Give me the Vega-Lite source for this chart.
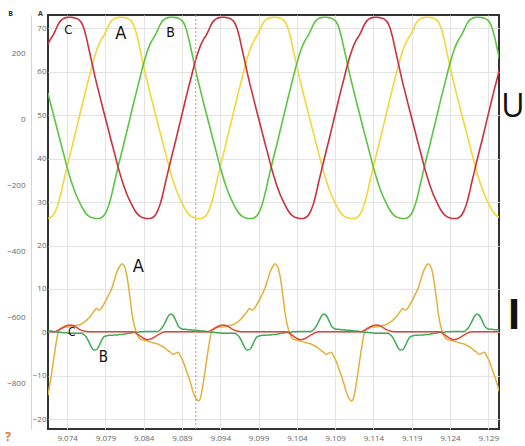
{
"$schema": "https://vega.github.io/schema/vega-lite/v6.json",
"width": 451, "height": 414, "autosize": "none",
"padding": {"left": 48, "top": 15, "right": 26, "bottom": 17},
"background": "#ffffff",
"config": {"view": {"stroke": "#333333", "strokeWidth": 2}, "font": "Open Sans"},
"datasets": {
"wave": [
{"t":9.0715,"Ua":-300,"Ub":79,"Uc":227,"Ia":-14.5,"Ib":0.3,"Ic":0.15},
{"t":9.07183,"Ua":-297,"Ub":48,"Uc":242,"Ia":-11,"Ib":0.3,"Ic":0.15},
{"t":9.07217,"Ua":-290,"Ub":18,"Uc":254,"Ia":-7,"Ib":0.2,"Ic":0.15},
{"t":9.0725,"Ua":-276,"Ub":-12,"Uc":270,"Ia":-3.1,"Ib":0.1,"Ic":0.2},
{"t":9.07283,"Ua":-255,"Ub":-42,"Uc":287,"Ia":0,"Ib":0,"Ic":0.5},
{"t":9.07317,"Ua":-226,"Ub":-72,"Uc":298,"Ia":0.9,"Ib":0,"Ic":0.8},
{"t":9.0735,"Ua":-192,"Ub":-101,"Uc":304,"Ia":1.2,"Ib":-0.1,"Ic":1.1},
{"t":9.07383,"Ua":-159,"Ub":-131,"Uc":307,"Ia":1.2,"Ib":-0.1,"Ic":1.45},
{"t":9.07417,"Ua":-127,"Ub":-159,"Uc":308,"Ia":1.2,"Ib":-0.2,"Ic":1.65},
{"t":9.0745,"Ua":-96,"Ub":-185,"Uc":308,"Ia":1.3,"Ib":-0.2,"Ic":1.7},
{"t":9.07483,"Ua":-65,"Ub":-208,"Uc":307,"Ia":1.4,"Ib":-0.2,"Ic":1.5},
{"t":9.07517,"Ua":-33,"Ub":-228,"Uc":305,"Ia":1.6,"Ib":-0.2,"Ic":1.2},
{"t":9.0755,"Ua":-1,"Ub":-245,"Uc":301,"Ia":1.7,"Ib":-0.2,"Ic":0.8},
{"t":9.07583,"Ua":31,"Ub":-261,"Uc":293,"Ia":1.9,"Ib":-0.2,"Ic":0.5},
{"t":9.07617,"Ua":63,"Ub":-275,"Uc":276,"Ia":2.3,"Ib":-0.5,"Ic":0.3},
{"t":9.0765,"Ua":94,"Ub":-286,"Uc":248,"Ia":2.7,"Ib":-1.1,"Ic":0.2},
{"t":9.07683,"Ua":124,"Ub":-293,"Uc":213,"Ia":3.3,"Ib":-2.2,"Ic":0.15},
{"t":9.07717,"Ua":155,"Ub":-297,"Uc":178,"Ia":4,"Ib":-3.4,"Ic":0.15},
{"t":9.0775,"Ua":183,"Ub":-299,"Uc":143,"Ia":4.8,"Ib":-4.1,"Ic":0.15},
{"t":9.07783,"Ua":207,"Ub":-300,"Uc":110,"Ia":5.5,"Ib":-4,"Ic":0.15},
{"t":9.07817,"Ua":227,"Ub":-300,"Uc":79,"Ia":5.1,"Ib":-3.1,"Ic":0.15},
{"t":9.0785,"Ua":242,"Ub":-297,"Uc":48,"Ia":5.6,"Ib":-1.8,"Ic":0.15},
{"t":9.07883,"Ua":254,"Ub":-290,"Uc":18,"Ia":6.6,"Ib":-1,"Ic":0.15},
{"t":9.07917,"Ua":270,"Ub":-276,"Uc":-12,"Ia":7.7,"Ib":-0.8,"Ic":0.15},
{"t":9.0795,"Ua":287,"Ub":-255,"Uc":-42,"Ia":8.9,"Ib":-0.7,"Ic":0.15},
{"t":9.07983,"Ua":298,"Ub":-226,"Uc":-72,"Ia":10.1,"Ib":-0.7,"Ic":0.15},
{"t":9.08017,"Ua":304,"Ub":-192,"Uc":-101,"Ia":12,"Ib":-0.6,"Ic":0.15},
{"t":9.0805,"Ua":307,"Ub":-159,"Uc":-131,"Ia":13.9,"Ib":-0.6,"Ic":0.15},
{"t":9.08083,"Ua":308,"Ub":-127,"Uc":-159,"Ia":15.1,"Ib":-0.5,"Ic":0.15},
{"t":9.08117,"Ua":308,"Ub":-96,"Uc":-185,"Ia":15.8,"Ib":-0.5,"Ic":0.15},
{"t":9.0815,"Ua":307,"Ub":-65,"Uc":-208,"Ia":15.1,"Ib":-0.4,"Ic":0.15},
{"t":9.08183,"Ua":305,"Ub":-33,"Uc":-228,"Ia":12.7,"Ib":-0.3,"Ic":0.15},
{"t":9.08217,"Ua":301,"Ub":-1,"Uc":-245,"Ia":8.5,"Ib":-0.2,"Ic":0.15},
{"t":9.0825,"Ua":293,"Ub":31,"Uc":-261,"Ia":4,"Ib":-0.1,"Ic":0.15},
{"t":9.08283,"Ua":276,"Ub":63,"Uc":-275,"Ia":1.1,"Ib":0,"Ic":0},
{"t":9.08317,"Ua":248,"Ub":94,"Uc":-286,"Ia":-0.6,"Ib":0,"Ic":-0.4},
{"t":9.0835,"Ua":213,"Ub":124,"Uc":-293,"Ia":-1.5,"Ib":0.1,"Ic":-0.8},
{"t":9.08383,"Ua":178,"Ub":155,"Uc":-297,"Ia":-1.7,"Ib":0.1,"Ic":-1.2},
{"t":9.08417,"Ua":143,"Ub":183,"Uc":-299,"Ia":-1.9,"Ib":0.2,"Ic":-1.55},
{"t":9.0845,"Ua":110,"Ub":207,"Uc":-300,"Ia":-2,"Ib":0.2,"Ic":-1.7},
{"t":9.08483,"Ua":79,"Ub":227,"Uc":-300,"Ia":-2.2,"Ib":0.2,"Ic":-1.6},
{"t":9.08517,"Ua":48,"Ub":242,"Uc":-297,"Ia":-2.4,"Ib":0.2,"Ic":-1.35},
{"t":9.0855,"Ua":18,"Ub":254,"Uc":-290,"Ia":-2.5,"Ib":0.2,"Ic":-1},
{"t":9.08583,"Ua":-12,"Ub":270,"Uc":-276,"Ia":-2.7,"Ib":0.2,"Ic":-0.6},
{"t":9.08617,"Ua":-42,"Ub":287,"Uc":-255,"Ia":-3,"Ib":0.6,"Ic":-0.3},
{"t":9.0865,"Ua":-72,"Ub":298,"Uc":-226,"Ia":-3.3,"Ib":1.3,"Ic":0},
{"t":9.08683,"Ua":-101,"Ub":304,"Uc":-192,"Ia":-3.7,"Ib":2.4,"Ic":0.15},
{"t":9.08717,"Ua":-131,"Ub":307,"Uc":-159,"Ia":-4.2,"Ib":3.6,"Ic":0.15},
{"t":9.0875,"Ua":-159,"Ub":308,"Uc":-127,"Ia":-4.6,"Ib":4.2,"Ic":0.15},
{"t":9.08783,"Ua":-185,"Ub":308,"Uc":-96,"Ia":-5.1,"Ib":3.9,"Ic":0.15},
{"t":9.08817,"Ua":-208,"Ub":307,"Uc":-65,"Ia":-4.8,"Ib":2.8,"Ic":0.15},
{"t":9.0885,"Ua":-228,"Ub":305,"Uc":-33,"Ia":-4.6,"Ib":1.5,"Ic":0.15},
{"t":9.08883,"Ua":-245,"Ub":301,"Uc":-1,"Ia":-5.6,"Ib":0.9,"Ic":0.15},
{"t":9.08917,"Ua":-261,"Ub":293,"Uc":31,"Ia":-6.8,"Ib":0.7,"Ic":0.15},
{"t":9.0895,"Ua":-275,"Ub":276,"Uc":63,"Ia":-8.5,"Ib":0.7,"Ic":0.15},
{"t":9.08983,"Ua":-286,"Ub":248,"Uc":94,"Ia":-10.1,"Ib":0.6,"Ic":0.15},
{"t":9.09017,"Ua":-293,"Ub":213,"Uc":124,"Ia":-12,"Ib":0.6,"Ic":0.15},
{"t":9.0905,"Ua":-297,"Ub":178,"Uc":155,"Ia":-14,"Ib":0.5,"Ic":0.15},
{"t":9.09083,"Ua":-299,"Ub":143,"Uc":183,"Ia":-15.3,"Ib":0.5,"Ic":0.15},
{"t":9.09117,"Ua":-300,"Ub":110,"Uc":207,"Ia":-15.8,"Ib":0.4,"Ic":0.15},
{"t":9.0915,"Ua":-300,"Ub":79,"Uc":227,"Ia":-14.5,"Ib":0.3,"Ic":0.15},
{"t":9.09183,"Ua":-297,"Ub":48,"Uc":242,"Ia":-11,"Ib":0.3,"Ic":0.15},
{"t":9.09217,"Ua":-290,"Ub":18,"Uc":254,"Ia":-7,"Ib":0.2,"Ic":0.15},
{"t":9.0925,"Ua":-276,"Ub":-12,"Uc":270,"Ia":-3.1,"Ib":0.1,"Ic":0.2},
{"t":9.09283,"Ua":-255,"Ub":-42,"Uc":287,"Ia":0,"Ib":0,"Ic":0.5},
{"t":9.09317,"Ua":-226,"Ub":-72,"Uc":298,"Ia":0.9,"Ib":0,"Ic":0.8},
{"t":9.0935,"Ua":-192,"Ub":-101,"Uc":304,"Ia":1.2,"Ib":-0.1,"Ic":1.1},
{"t":9.09383,"Ua":-159,"Ub":-131,"Uc":307,"Ia":1.2,"Ib":-0.1,"Ic":1.45},
{"t":9.09417,"Ua":-127,"Ub":-159,"Uc":308,"Ia":1.2,"Ib":-0.2,"Ic":1.65},
{"t":9.0945,"Ua":-96,"Ub":-185,"Uc":308,"Ia":1.3,"Ib":-0.2,"Ic":1.7},
{"t":9.09483,"Ua":-65,"Ub":-208,"Uc":307,"Ia":1.4,"Ib":-0.2,"Ic":1.5},
{"t":9.09517,"Ua":-33,"Ub":-228,"Uc":305,"Ia":1.6,"Ib":-0.2,"Ic":1.2},
{"t":9.0955,"Ua":-1,"Ub":-245,"Uc":301,"Ia":1.7,"Ib":-0.2,"Ic":0.8},
{"t":9.09583,"Ua":31,"Ub":-261,"Uc":293,"Ia":1.9,"Ib":-0.2,"Ic":0.5},
{"t":9.09617,"Ua":63,"Ub":-275,"Uc":276,"Ia":2.3,"Ib":-0.5,"Ic":0.3},
{"t":9.0965,"Ua":94,"Ub":-286,"Uc":248,"Ia":2.7,"Ib":-1.1,"Ic":0.2},
{"t":9.09683,"Ua":124,"Ub":-293,"Uc":213,"Ia":3.3,"Ib":-2.2,"Ic":0.15},
{"t":9.09717,"Ua":155,"Ub":-297,"Uc":178,"Ia":4,"Ib":-3.4,"Ic":0.15},
{"t":9.0975,"Ua":183,"Ub":-299,"Uc":143,"Ia":4.8,"Ib":-4.1,"Ic":0.15},
{"t":9.09783,"Ua":207,"Ub":-300,"Uc":110,"Ia":5.5,"Ib":-4,"Ic":0.15},
{"t":9.09817,"Ua":227,"Ub":-300,"Uc":79,"Ia":5.1,"Ib":-3.1,"Ic":0.15},
{"t":9.0985,"Ua":242,"Ub":-297,"Uc":48,"Ia":5.6,"Ib":-1.8,"Ic":0.15},
{"t":9.09883,"Ua":254,"Ub":-290,"Uc":18,"Ia":6.6,"Ib":-1,"Ic":0.15},
{"t":9.09917,"Ua":270,"Ub":-276,"Uc":-12,"Ia":7.7,"Ib":-0.8,"Ic":0.15},
{"t":9.0995,"Ua":287,"Ub":-255,"Uc":-42,"Ia":8.9,"Ib":-0.7,"Ic":0.15},
{"t":9.09983,"Ua":298,"Ub":-226,"Uc":-72,"Ia":10.1,"Ib":-0.7,"Ic":0.15},
{"t":9.10017,"Ua":304,"Ub":-192,"Uc":-101,"Ia":12,"Ib":-0.6,"Ic":0.15},
{"t":9.1005,"Ua":307,"Ub":-159,"Uc":-131,"Ia":13.9,"Ib":-0.6,"Ic":0.15},
{"t":9.10083,"Ua":308,"Ub":-127,"Uc":-159,"Ia":15.1,"Ib":-0.5,"Ic":0.15},
{"t":9.10117,"Ua":308,"Ub":-96,"Uc":-185,"Ia":15.8,"Ib":-0.5,"Ic":0.15},
{"t":9.1015,"Ua":307,"Ub":-65,"Uc":-208,"Ia":15.1,"Ib":-0.4,"Ic":0.15},
{"t":9.10183,"Ua":305,"Ub":-33,"Uc":-228,"Ia":12.7,"Ib":-0.3,"Ic":0.15},
{"t":9.10217,"Ua":301,"Ub":-1,"Uc":-245,"Ia":8.5,"Ib":-0.2,"Ic":0.15},
{"t":9.1025,"Ua":293,"Ub":31,"Uc":-261,"Ia":4,"Ib":-0.1,"Ic":0.15},
{"t":9.10283,"Ua":276,"Ub":63,"Uc":-275,"Ia":1.1,"Ib":0,"Ic":0},
{"t":9.10317,"Ua":248,"Ub":94,"Uc":-286,"Ia":-0.6,"Ib":0,"Ic":-0.4},
{"t":9.1035,"Ua":213,"Ub":124,"Uc":-293,"Ia":-1.5,"Ib":0.1,"Ic":-0.8},
{"t":9.10383,"Ua":178,"Ub":155,"Uc":-297,"Ia":-1.7,"Ib":0.1,"Ic":-1.2},
{"t":9.10417,"Ua":143,"Ub":183,"Uc":-299,"Ia":-1.9,"Ib":0.2,"Ic":-1.55},
{"t":9.1045,"Ua":110,"Ub":207,"Uc":-300,"Ia":-2,"Ib":0.2,"Ic":-1.7},
{"t":9.10483,"Ua":79,"Ub":227,"Uc":-300,"Ia":-2.2,"Ib":0.2,"Ic":-1.6},
{"t":9.10517,"Ua":48,"Ub":242,"Uc":-297,"Ia":-2.4,"Ib":0.2,"Ic":-1.35},
{"t":9.1055,"Ua":18,"Ub":254,"Uc":-290,"Ia":-2.5,"Ib":0.2,"Ic":-1},
{"t":9.10583,"Ua":-12,"Ub":270,"Uc":-276,"Ia":-2.7,"Ib":0.2,"Ic":-0.6},
{"t":9.10617,"Ua":-42,"Ub":287,"Uc":-255,"Ia":-3,"Ib":0.6,"Ic":-0.3},
{"t":9.1065,"Ua":-72,"Ub":298,"Uc":-226,"Ia":-3.3,"Ib":1.3,"Ic":0},
{"t":9.10683,"Ua":-101,"Ub":304,"Uc":-192,"Ia":-3.7,"Ib":2.4,"Ic":0.15},
{"t":9.10717,"Ua":-131,"Ub":307,"Uc":-159,"Ia":-4.2,"Ib":3.6,"Ic":0.15},
{"t":9.1075,"Ua":-159,"Ub":308,"Uc":-127,"Ia":-4.6,"Ib":4.2,"Ic":0.15},
{"t":9.10783,"Ua":-185,"Ub":308,"Uc":-96,"Ia":-5.1,"Ib":3.9,"Ic":0.15},
{"t":9.10817,"Ua":-208,"Ub":307,"Uc":-65,"Ia":-4.8,"Ib":2.8,"Ic":0.15},
{"t":9.1085,"Ua":-228,"Ub":305,"Uc":-33,"Ia":-4.6,"Ib":1.5,"Ic":0.15},
{"t":9.10883,"Ua":-245,"Ub":301,"Uc":-1,"Ia":-5.6,"Ib":0.9,"Ic":0.15},
{"t":9.10917,"Ua":-261,"Ub":293,"Uc":31,"Ia":-6.8,"Ib":0.7,"Ic":0.15},
{"t":9.1095,"Ua":-275,"Ub":276,"Uc":63,"Ia":-8.5,"Ib":0.7,"Ic":0.15},
{"t":9.10983,"Ua":-286,"Ub":248,"Uc":94,"Ia":-10.1,"Ib":0.6,"Ic":0.15},
{"t":9.11017,"Ua":-293,"Ub":213,"Uc":124,"Ia":-12,"Ib":0.6,"Ic":0.15},
{"t":9.1105,"Ua":-297,"Ub":178,"Uc":155,"Ia":-14,"Ib":0.5,"Ic":0.15},
{"t":9.11083,"Ua":-299,"Ub":143,"Uc":183,"Ia":-15.3,"Ib":0.5,"Ic":0.15},
{"t":9.11117,"Ua":-300,"Ub":110,"Uc":207,"Ia":-15.8,"Ib":0.4,"Ic":0.15},
{"t":9.1115,"Ua":-300,"Ub":79,"Uc":227,"Ia":-14.5,"Ib":0.3,"Ic":0.15},
{"t":9.11183,"Ua":-297,"Ub":48,"Uc":242,"Ia":-11,"Ib":0.3,"Ic":0.15},
{"t":9.11217,"Ua":-290,"Ub":18,"Uc":254,"Ia":-7,"Ib":0.2,"Ic":0.15},
{"t":9.1125,"Ua":-276,"Ub":-12,"Uc":270,"Ia":-3.1,"Ib":0.1,"Ic":0.2},
{"t":9.11283,"Ua":-255,"Ub":-42,"Uc":287,"Ia":0,"Ib":0,"Ic":0.5},
{"t":9.11317,"Ua":-226,"Ub":-72,"Uc":298,"Ia":0.9,"Ib":0,"Ic":0.8},
{"t":9.1135,"Ua":-192,"Ub":-101,"Uc":304,"Ia":1.2,"Ib":-0.1,"Ic":1.1},
{"t":9.11383,"Ua":-159,"Ub":-131,"Uc":307,"Ia":1.2,"Ib":-0.1,"Ic":1.45},
{"t":9.11417,"Ua":-127,"Ub":-159,"Uc":308,"Ia":1.2,"Ib":-0.2,"Ic":1.65},
{"t":9.1145,"Ua":-96,"Ub":-185,"Uc":308,"Ia":1.3,"Ib":-0.2,"Ic":1.7},
{"t":9.11483,"Ua":-65,"Ub":-208,"Uc":307,"Ia":1.4,"Ib":-0.2,"Ic":1.5},
{"t":9.11517,"Ua":-33,"Ub":-228,"Uc":305,"Ia":1.6,"Ib":-0.2,"Ic":1.2},
{"t":9.1155,"Ua":-1,"Ub":-245,"Uc":301,"Ia":1.7,"Ib":-0.2,"Ic":0.8},
{"t":9.11583,"Ua":31,"Ub":-261,"Uc":293,"Ia":1.9,"Ib":-0.2,"Ic":0.5},
{"t":9.11617,"Ua":63,"Ub":-275,"Uc":276,"Ia":2.3,"Ib":-0.5,"Ic":0.3},
{"t":9.1165,"Ua":94,"Ub":-286,"Uc":248,"Ia":2.7,"Ib":-1.1,"Ic":0.2},
{"t":9.11683,"Ua":124,"Ub":-293,"Uc":213,"Ia":3.3,"Ib":-2.2,"Ic":0.15},
{"t":9.11717,"Ua":155,"Ub":-297,"Uc":178,"Ia":4,"Ib":-3.4,"Ic":0.15},
{"t":9.1175,"Ua":183,"Ub":-299,"Uc":143,"Ia":4.8,"Ib":-4.1,"Ic":0.15},
{"t":9.11783,"Ua":207,"Ub":-300,"Uc":110,"Ia":5.5,"Ib":-4,"Ic":0.15},
{"t":9.11817,"Ua":227,"Ub":-300,"Uc":79,"Ia":5.1,"Ib":-3.1,"Ic":0.15},
{"t":9.1185,"Ua":242,"Ub":-297,"Uc":48,"Ia":5.6,"Ib":-1.8,"Ic":0.15},
{"t":9.11883,"Ua":254,"Ub":-290,"Uc":18,"Ia":6.6,"Ib":-1,"Ic":0.15},
{"t":9.11917,"Ua":270,"Ub":-276,"Uc":-12,"Ia":7.7,"Ib":-0.8,"Ic":0.15},
{"t":9.1195,"Ua":287,"Ub":-255,"Uc":-42,"Ia":8.9,"Ib":-0.7,"Ic":0.15},
{"t":9.11983,"Ua":298,"Ub":-226,"Uc":-72,"Ia":10.1,"Ib":-0.7,"Ic":0.15},
{"t":9.12017,"Ua":304,"Ub":-192,"Uc":-101,"Ia":12,"Ib":-0.6,"Ic":0.15},
{"t":9.1205,"Ua":307,"Ub":-159,"Uc":-131,"Ia":13.9,"Ib":-0.6,"Ic":0.15},
{"t":9.12083,"Ua":308,"Ub":-127,"Uc":-159,"Ia":15.1,"Ib":-0.5,"Ic":0.15},
{"t":9.12117,"Ua":308,"Ub":-96,"Uc":-185,"Ia":15.8,"Ib":-0.5,"Ic":0.15},
{"t":9.1215,"Ua":307,"Ub":-65,"Uc":-208,"Ia":15.1,"Ib":-0.4,"Ic":0.15},
{"t":9.12183,"Ua":305,"Ub":-33,"Uc":-228,"Ia":12.7,"Ib":-0.3,"Ic":0.15},
{"t":9.12217,"Ua":301,"Ub":-1,"Uc":-245,"Ia":8.5,"Ib":-0.2,"Ic":0.15},
{"t":9.1225,"Ua":293,"Ub":31,"Uc":-261,"Ia":4,"Ib":-0.1,"Ic":0.15},
{"t":9.12283,"Ua":276,"Ub":63,"Uc":-275,"Ia":1.1,"Ib":0,"Ic":0},
{"t":9.12317,"Ua":248,"Ub":94,"Uc":-286,"Ia":-0.6,"Ib":0,"Ic":-0.4},
{"t":9.1235,"Ua":213,"Ub":124,"Uc":-293,"Ia":-1.5,"Ib":0.1,"Ic":-0.8},
{"t":9.12383,"Ua":178,"Ub":155,"Uc":-297,"Ia":-1.7,"Ib":0.1,"Ic":-1.2},
{"t":9.12417,"Ua":143,"Ub":183,"Uc":-299,"Ia":-1.9,"Ib":0.2,"Ic":-1.55},
{"t":9.1245,"Ua":110,"Ub":207,"Uc":-300,"Ia":-2,"Ib":0.2,"Ic":-1.7},
{"t":9.12483,"Ua":79,"Ub":227,"Uc":-300,"Ia":-2.2,"Ib":0.2,"Ic":-1.6},
{"t":9.12517,"Ua":48,"Ub":242,"Uc":-297,"Ia":-2.4,"Ib":0.2,"Ic":-1.35},
{"t":9.1255,"Ua":18,"Ub":254,"Uc":-290,"Ia":-2.5,"Ib":0.2,"Ic":-1},
{"t":9.12583,"Ua":-12,"Ub":270,"Uc":-276,"Ia":-2.7,"Ib":0.2,"Ic":-0.6},
{"t":9.12617,"Ua":-42,"Ub":287,"Uc":-255,"Ia":-3,"Ib":0.6,"Ic":-0.3},
{"t":9.1265,"Ua":-72,"Ub":298,"Uc":-226,"Ia":-3.3,"Ib":1.3,"Ic":0},
{"t":9.12683,"Ua":-101,"Ub":304,"Uc":-192,"Ia":-3.7,"Ib":2.4,"Ic":0.15},
{"t":9.12717,"Ua":-131,"Ub":307,"Uc":-159,"Ia":-4.2,"Ib":3.6,"Ic":0.15},
{"t":9.1275,"Ua":-159,"Ub":308,"Uc":-127,"Ia":-4.6,"Ib":4.2,"Ic":0.15},
{"t":9.12783,"Ua":-185,"Ub":308,"Uc":-96,"Ia":-5.1,"Ib":3.9,"Ic":0.15},
{"t":9.12817,"Ua":-208,"Ub":307,"Uc":-65,"Ia":-4.8,"Ib":2.8,"Ic":0.15},
{"t":9.1285,"Ua":-228,"Ub":305,"Uc":-33,"Ia":-4.6,"Ib":1.5,"Ic":0.15},
{"t":9.12883,"Ua":-245,"Ub":301,"Uc":-1,"Ia":-5.6,"Ib":0.9,"Ic":0.15},
{"t":9.12917,"Ua":-261,"Ub":293,"Uc":31,"Ia":-6.8,"Ib":0.7,"Ic":0.15},
{"t":9.1295,"Ua":-275,"Ub":276,"Uc":63,"Ia":-8.5,"Ib":0.7,"Ic":0.15},
{"t":9.12983,"Ua":-286,"Ub":248,"Uc":94,"Ia":-10.1,"Ib":0.6,"Ic":0.15},
{"t":9.13017,"Ua":-293,"Ub":213,"Uc":124,"Ia":-12,"Ib":0.6,"Ic":0.15},
{"t":9.1305,"Ua":-297,"Ub":178,"Uc":155,"Ia":-14,"Ib":0.5,"Ic":0.15}
],
"cursor": [{"t": 9.0908}],
"ulabels": [
{"t":9.07415,"value":270,"label":"C"},
{"t":9.08099,"value":258,"label":"A"},
{"t":9.08752,"value":260,"label":"B"},
{"t":9.13223,"value":38,"label":"U"}
],
"ilabels": [
{"t":9.08329,"value":15.1,"label":"A"},
{"t":9.0746,"value":0,"label":"C"},
{"t":9.07872,"value":-5.6,"label":"B"},
{"t":9.13236,"value":3.5,"label":"I"},
{"t":9.06628,"value":-24.1,"label":"?"}
]
},
"encoding": {
"x": {"field": "t", "type": "quantitative", "title": null,
"scale": {"domain": [9.0715, 9.1304], "nice": false, "zero": false},
"axis": {"values": [9.074, 9.079, 9.084, 9.089, 9.094, 9.099, 9.104, 9.109, 9.114, 9.119, 9.124, 9.129],
"format": ".3f", "grid": true, "gridColor": "#e3e3e3", "gridWidth": 1, "ticks": false, "tickSize": 0, "domain": false,
"labelPadding": 5, "labelFontSize": 8, "labelColor": "#666666", "labelFont": "Open Sans", "labelFlush": false}}
},
"layer": [
{
"encoding": {"y": {"field": "value", "type": "quantitative", "title": "B",
"scale": {"domain": [-936, 315], "nice": false, "zero": false},
"axis": {"orient": "left", "offset": 17, "values": [-800, -600, -400, -200, 0, 200], "grid": false, "ticks": false, "tickSize": 0,
"domain": true, "domainColor": "#d4d4d4", "domainWidth": 1, "labelPadding": 6, "labelFontSize": 8, "labelColor": "#666666", "labelFont": "Open Sans",
"titleAngle": 0, "titleX": -21, "titleY": 0, "titleAlign": "center", "titleBaseline": "alphabetic", "titleFontSize": 7, "titleFontWeight": "bold", "titleColor": "#333333", "titleFont": "Open Sans"}}},
"layer": [
{"data": {"name": "wave"}, "transform": [{"fold": ["Ua", "Ub", "Uc"], "as": ["phase", "value"]}],
"mark": {"type": "line", "strokeWidth": 1.6, "interpolate": "monotone", "clip": true},
"encoding": {"color": {"field": "phase", "type": "nominal", "scale": {"domain": ["Ua", "Ub", "Uc"], "range": ["#f4d63c", "#5cc443", "#c9323e"]}, "legend": null}}},
{"data": {"name": "ulabels"}, "transform": [{"filter": "datum.label === 'C'"}],
"mark": {"type": "text", "fontSize": 13, "font": "DejaVu Sans Condensed, Liberation Sans Narrow, Open Sans", "fill": "#111111", "align": "center", "baseline": "middle"},
"encoding": {"text": {"field": "label"}}},
{"data": {"name": "ulabels"}, "transform": [{"filter": "datum.label === 'A'"}],
"mark": {"type": "text", "fontSize": 18, "font": "DejaVu Sans Condensed, Liberation Sans Narrow, Open Sans", "fill": "#111111", "align": "center", "baseline": "middle"},
"encoding": {"text": {"field": "label"}}},
{"data": {"name": "ulabels"}, "transform": [{"filter": "datum.label === 'B'"}],
"mark": {"type": "text", "fontSize": 14, "font": "DejaVu Sans Condensed, Liberation Sans Narrow, Open Sans", "fill": "#111111", "align": "center", "baseline": "middle"},
"encoding": {"text": {"field": "label"}}},
{"data": {"name": "ulabels"}, "transform": [{"filter": "datum.label === 'U'"}],
"mark": {"type": "text", "fontSize": 32, "font": "Open Sans", "fill": "#111111", "align": "center", "baseline": "middle"},
"encoding": {"text": {"field": "label"}}}
]
},
{
"encoding": {"y": {"field": "value", "type": "quantitative", "title": "A",
"scale": {"domain": [-22.28, 73.11], "nice": false, "zero": false},
"axis": {"orient": "left", "offset": 0, "values": [-20, -10, 0, 10, 20, 30, 40, 50, 60, 70], "grid": true, "gridColor": "#e3e3e3", "gridWidth": 1,
"ticks": false, "tickSize": 0, "domain": false, "labelPadding": 2, "labelFontSize": 8, "labelColor": "#666666", "labelFont": "Open Sans",
"titleAngle": 0, "titleX": -8, "titleY": 0, "titleAlign": "center", "titleBaseline": "alphabetic", "titleFontSize": 7, "titleFontWeight": "bold", "titleColor": "#333333", "titleFont": "Open Sans"}}},
"layer": [
{"data": {"name": "wave"}, "transform": [{"fold": ["Ia", "Ib", "Ic"], "as": ["phase", "value"]}],
"mark": {"type": "line", "strokeWidth": 1.5, "interpolate": "monotone", "clip": true},
"encoding": {"color": {"field": "phase", "type": "nominal", "scale": {"domain": ["Ia", "Ib", "Ic"], "range": ["#e2b13b", "#40aa56", "#e2453b"]}, "legend": null}}},
{"data": {"name": "ilabels"}, "transform": [{"filter": "datum.label === 'A'"}],
"mark": {"type": "text", "fontSize": 18, "font": "DejaVu Sans Condensed, Liberation Sans Narrow, Open Sans", "fill": "#111111", "align": "center", "baseline": "middle"},
"encoding": {"text": {"field": "label"}}},
{"data": {"name": "ilabels"}, "transform": [{"filter": "datum.label === 'C'"}],
"mark": {"type": "text", "fontSize": 12, "font": "DejaVu Sans Condensed, Liberation Sans Narrow, Open Sans", "fill": "#111111", "align": "center", "baseline": "middle"},
"encoding": {"text": {"field": "label"}}},
{"data": {"name": "ilabels"}, "transform": [{"filter": "datum.label === 'B'"}],
"mark": {"type": "text", "fontSize": 15, "font": "DejaVu Sans Condensed, Liberation Sans Narrow, Open Sans", "fill": "#111111", "align": "center", "baseline": "middle"},
"encoding": {"text": {"field": "label"}}},
{"data": {"name": "ilabels"}, "transform": [{"filter": "datum.label === 'I'"}],
"mark": {"type": "text", "fontSize": 41, "font": "Open Sans", "fontWeight": "bold", "fill": "#111111", "align": "center", "baseline": "middle"},
"encoding": {"text": {"field": "label"}}},
{"data": {"name": "ilabels"}, "transform": [{"filter": "datum.label === '?'"}],
"mark": {"type": "text", "fontSize": 12, "font": "Open Sans", "fontWeight": "bold", "fill": "#e8741c", "align": "center", "baseline": "middle"},
"encoding": {"text": {"field": "label"}}}
]
},
{"data": {"name": "cursor"}, "mark": {"type": "rule", "stroke": "#d48c8c", "strokeWidth": 1, "strokeDash": [2, 2]}, "encoding": {}}
],
"resolve": {"scale": {"y": "independent", "color": "independent"}}
}
